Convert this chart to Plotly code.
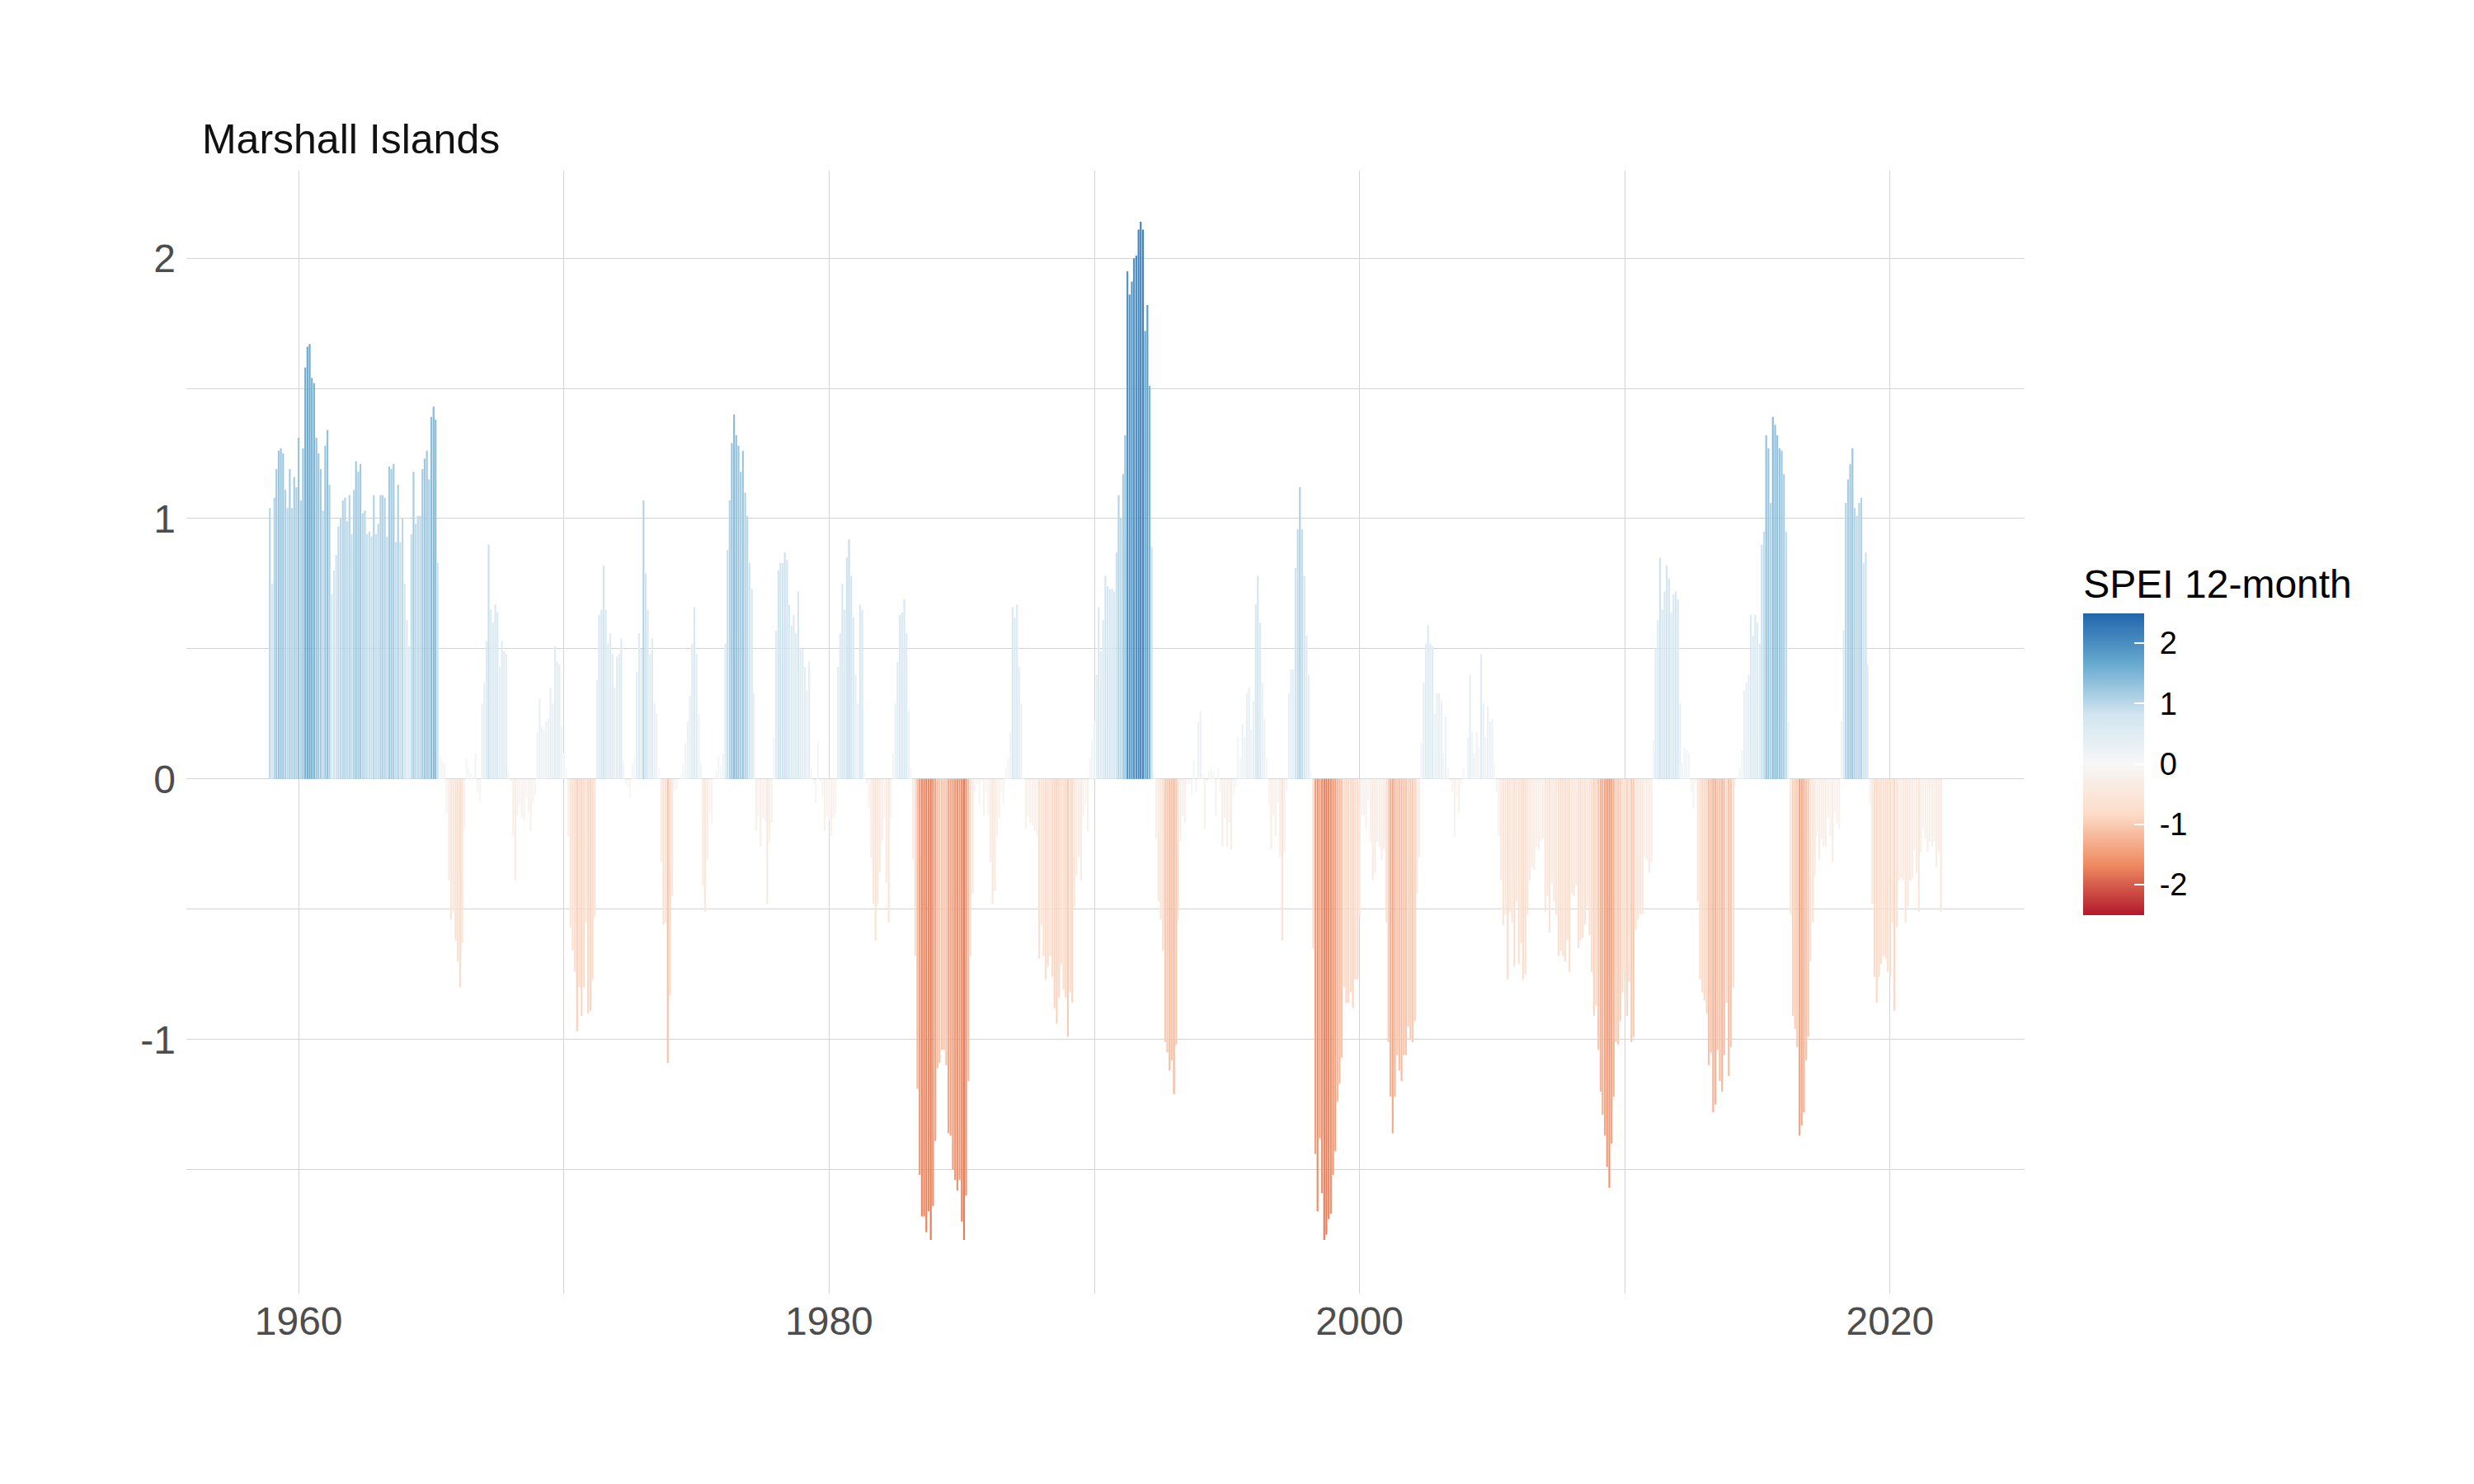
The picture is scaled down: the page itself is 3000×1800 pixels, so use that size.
import pandas as pd
import plotly.graph_objects as go

# ─── Data (monthly SPEI-12, Dec 1958 .. Dec 2021) ─────────────────────────────
TITLE = "Marshall Islands"
START_MONTH = "1958-12-01"

spei = [
    1.04, 0.75, 1.08, 1.19, 1.26, 1.27, 1.25, 1.11, 1.04, 1.19, 1.04, 1.16, 1.12,
    1.31, 1.07, 1.27, 1.58, 1.66, 1.67, 1.54, 1.52, 1.31, 1.25, 1.19, 1.03,
    1.28, 1.34, 1.13, 0.71, 0.80, 0.86, 0.97, 1.00, 1.07, 1.08, 0.99, 1.09,
    0.94, 1.11, 1.22, 1.18, 1.21, 1.02, 1.03, 0.94, 0.95, 0.93, 1.09, 0.94,
    0.98, 1.09, 1.09, 1.08, 0.93, 1.20, 1.19, 1.21, 0.91, 1.13, 0.91, 1.00,
    0.75, 0.61, 0.51, 0.94, 1.18, 0.98, 1.01, 1.01, 1.19, 1.23, 1.26, 1.15,
    1.39, 1.43, 1.38, 0.83, 0.09, 0.07, 0.06, -0.13, -0.39, -0.54, -0.51, -0.62,
    -0.70, -0.80, -0.63, -0.19, 0.08, 0.04, 0.02, 0.01, 0.10, -0.05, -0.09, 0.29,
    0.37, 0.53, 0.90, 0.65, 0.60, 0.67, 0.64, 0.43, 0.53, 0.49, 0.48, 0.03,
    -0.01, -0.22, -0.39, -0.14, -0.10, -0.15, -0.16, -0.07, -0.13, -0.20, -0.09, -0.06,
    0.18, 0.31, 0.20,
    0.19, 0.22, 0.23, 0.35, 0.29, 0.51, 0.45, 0.44, 0.20, 0.10, 0.04,
    -0.22, -0.57, -0.66, -0.74, -0.97, -0.80, -0.91, -0.80, -0.55, -0.90, -0.89, -0.77, -0.53,
    0.38, 0.63, 0.65, 0.82, 0.65, 0.52, 0.56, 0.48, 0.35, 0.47, 0.48, 0.54, 0.07,
    -0.02, -0.03, -0.07,
    0.06, 0.08, 0.41, 0.56, 0.50, 1.07, 0.79, 0.65, 0.48, 0.54, 0.29, 0.25, 0.04,
    -0.32, -0.56, -0.55, -1.09, -0.83, -0.45, -0.05, -0.04,
    0.00, 0.02, 0.06, 0.14, 0.22, 0.32, 0.52, 0.66, 0.48, 0.25, 0.06,
    -0.41, -0.51, -0.31, -0.13, -0.17,
    0.01, 0.03, 0.09, 0.05, 0.10, 0.52, 0.88, 1.07, 1.29, 1.40, 1.32, 1.28, 1.18,
    1.26, 1.10, 1.01, 0.83, 0.73, 0.33,
    -0.20, -0.14, -0.26, -0.15, -0.16, -0.48, -0.24, -0.17,
    0.16, 0.57, 0.80, 0.83, 0.83, 0.87, 0.84, 0.67, 0.59, 0.63, 0.56, 0.72, 0.50,
    0.50, 0.43, 0.34, 0.45, 0.04,
    -0.02, -0.09, 0.14, -0.01, -0.07, -0.20, -0.14, -0.16, -0.22,
    -0.15, -0.13,
    0.43, 0.56, 0.75, 0.65, 0.85, 0.92, 0.78, 0.62, 0.40, 0.29, 0.67, 0.65, 0.03,
    -0.02, -0.11, -0.30, -0.48, -0.62, -0.48, -0.36, -0.24, -0.15, -0.40, -0.55, -0.15,
    0.10, 0.29, 0.45, 0.63, 0.64, 0.69, 0.56, 0.26, 0.04,
    -0.31, -0.68, -1.19, -1.52, -1.68, -1.68, -1.74, -1.66, -1.77, -1.64, -1.39, -1.11,
    -1.09, -1.04, -1.04, -1.10, -1.36, -1.37, -1.50, -1.54, -1.58, -1.54, -1.70, -1.77,
    -1.60, -1.16, -0.68, -0.44,
    -0.05, -0.02, -0.10, -0.01, -0.14, -0.05, -0.14, -0.32, -0.48, -0.43, -0.22, -0.15,
    -0.05, -0.10,
    0.04, 0.08, 0.18, 0.66, 0.62, 0.67, 0.43, 0.29, 0.01,
    -0.19, -0.14, -0.17, -0.18, -0.20, -0.22, -0.69, -0.56, -0.68, -0.77, -0.72, -0.68,
    -0.76, -0.88, -0.94, -0.84, -0.71, -0.81, -0.84, -0.99, -0.82, -0.86, -0.49, -0.37,
    -0.30, -0.39, -0.14, -0.10, -0.20,
    0.08, 0.15, 0.22, 0.40, 0.66, 0.49, 0.61, 0.78, 0.74, 0.73, 0.73, 0.72, 0.87,
    1.09, 1.00, 1.17, 1.32, 1.95, 1.86,
    1.91, 2.00, 2.01, 2.11, 2.14, 2.11, 1.72, 1.82, 1.51, 0.89, 0.03,
    -0.23, -0.47, -0.54, -0.66, -1.01, -1.05, -1.12, -1.08, -1.21, -1.02, -0.54, -0.24, -0.14,
    -0.17, -0.02, -0.02, -0.06, 0.07, -0.05, 0.22, 0.26, 0.02, -0.19, -0.01, 0.03,
    0.04, 0.03, -0.14, 0.04, -0.05, -0.26, -0.15, -0.26, -0.17, -0.27, -0.07, -0.03,
    0.16, 0.08, 0.21, 0.16, 0.33, 0.35, 0.19, 0.30, 0.67, 0.78, 0.60, 0.37, 0.23, 0.08,
    -0.10, -0.27, -0.14, -0.22, -0.09, -0.30, -0.62, -0.28, -0.05,
    0.33, 0.42, 0.42, 0.81, 0.96, 1.12, 0.96, 0.78, 0.55, 0.40, 0.03,
    -0.65, -1.44, -1.66, -1.38, -1.59, -1.77, -1.75, -1.69, -1.67, -1.52, -1.43, -1.24,
    -1.17, -1.07, -0.80, -0.86, -0.86, -0.82, -0.88, -0.77, -0.77, -0.53, -0.14,
    -0.14, -0.19, -0.08, -0.24, -0.39, -0.36, -0.24, -0.26, -0.31, -0.27,
    -0.55, -1.01, -1.22, -1.36, -1.22, -1.06, -1.12, -1.16, -1.06, -1.06, -0.95, -1.00,
    -1.01, -0.93, -0.44, -0.30,
    0.14, 0.37, 0.52, 0.59, 0.52, 0.51, 0.25, 0.33, 0.33, 0.30, 0.10, 0.24, 0.04,
    -0.01, -0.05, -0.22, -0.07, -0.13, -0.02, 0.04,
    0.01, 0.16, 0.40, 0.18, 0.10, 0.18, 0.12, 0.48, 0.29, 0.16, 0.28, 0.22, 0.23, 0.06,
    -0.05,
    -0.22, -0.39, -0.56, -0.52, -0.77, -0.51, -0.55, -0.72, -0.47, -0.71,
    -0.63, -0.77, -0.75, -0.52, -0.39, -0.34, -0.35, -0.26, -0.27, -0.24,
    -0.23, -0.51, -0.45, -0.59, -0.40, -0.47, -0.52, -0.68, -0.66, -0.68,
    -0.70, -0.62, -0.74, -0.44, -0.45, -0.41, -0.65, -0.62, -0.61, -0.56,
    -0.49, -0.60, -0.74, -0.91, -0.87, -1.04, -1.20, -1.29, -1.37, -1.49,
    -1.57, -1.40, -1.22, -1.01, -1.02, -0.93, -0.82, -0.74, -0.91, -0.78,
    -1.01, -0.99, -0.58, -0.54, -0.52, -0.52, -0.30, -0.31, -0.36, -0.32,
    0.15, 0.50, 0.61, 0.85, 0.65, 0.72, 0.82, 0.77, 0.64, 0.71, 0.72, 0.69, 0.29,
    0.06, 0.12, 0.11, 0.10,
    -0.05, -0.11, -0.02, -0.47,
    -0.77, -0.82, -0.85, -0.90, -1.10, -1.05, -1.28, -1.25, -1.04, -1.16, -1.20, -1.06,
    -0.86, -1.14, -1.03, -0.80, -0.03,
    0.01, 0.04, 0.11, 0.34, 0.37, 0.40, 0.63, 0.55, 0.63, 0.60, 0.52, 0.90,
    0.95, 1.32, 1.27, 1.06, 1.39, 1.36, 1.32, 1.27, 1.26, 1.17, 0.95, 0.22,
    -0.52, -0.91, -0.96, -1.03, -1.37, -1.33, -1.28, -1.08, -0.99, -0.70, -0.55, -0.37,
    -0.22, -0.31, -0.23, -0.26, -0.26, -0.15, -0.22, -0.32, -0.13, -0.17, -0.19,
    0.22, 0.57, 1.06, 1.15, 1.21, 1.27, 1.04, 1.01, 1.06, 1.08, 0.83, 0.87, 0.44,
    -0.10,
    -0.48, -0.76, -0.86, -0.76, -0.71, -0.68, -0.69, -0.74, -0.76, -0.55, -0.89, -0.57,
    -0.39, -0.38, -0.39, -0.55, -0.49, -0.39, -0.38, -0.27, -0.36, -0.51, -0.28, -0.19,
    -0.23, -0.28, -0.24, -0.26, -0.24, -0.34, -0.28, -0.51,
]

months = pd.date_range(START_MONTH, periods=len(spei), freq="MS")

x_ticks = ["1960-01-01", "1980-01-01", "2000-01-01", "2020-01-01"]
x_labels = ["1960", "1980", "2000", "2020"]
x_minor = ["1970-01-01", "1990-01-01", "2010-01-01"]
y_ticks = [-1, 0, 1, 2]
y_labels = ["-1", "0", "1", "2"]
y_minor = [-1.5, -0.5, 0.5, 1.5]
scale_ticks = [-2, -1, 0, 1, 2]
scale_labels = ["-2", "-1", "0", "1", "2"]

# RdBu (7 class), red for dry, blue for wet
RDBU = [
    [0.0, "#B2182B"],
    [1 / 6, "#EF8A62"],
    [2 / 6, "#FDDBC7"],
    [0.5, "#F7F7F7"],
    [4 / 6, "#D1E5F0"],
    [5 / 6, "#67A9CF"],
    [1.0, "#2166AC"],
]

GRID = "#d4d4d4"
FONT = "Liberation Sans, Arial, sans-serif"
MONTH_MS = 30.44 * 24 * 3600 * 1000

fig = go.Figure(go.Bar(
    x=months,
    y=spei,
    width=0.8 * MONTH_MS,
    marker=dict(
        color=spei,
        colorscale=RDBU,
        cmin=-2.5,
        cmax=2.5,
        line=dict(width=0),
        showscale=True,
        colorbar=dict(
            title=dict(text="SPEI 12-month", side="top", font=dict(size=48, color="#000000")),
            thickness=74,
            thicknessmode="pixels",
            len=424,
            lenmode="pixels",
            x=1.032,
            xanchor="left",
            y=0.493,
            yanchor="middle",
            xpad=0,
            ypad=0,
            outlinewidth=0,
            ticks="inside",
            ticklen=12,
            tickwidth=1.5,
            tickcolor="#ffffff",
            tickvals=scale_ticks,
            # small non-breaking gap so labels sit a bit off the bar, as in ggplot
            ticktext=["\u00a0" + t for t in scale_labels],
            tickfont=dict(size=38, color="#000000"),
        ),
    ),
    hovertemplate="%{x|%b %Y}<br>SPEI: %{y:.2f}<extra></extra>",
))

fig.update_layout(
    width=3000,
    height=1800,
    margin=dict(l=218, r=553, t=199, b=239),
    paper_bgcolor="#ffffff",
    plot_bgcolor="#ffffff",
    font=dict(family=FONT, color="#4d4d4d"),
    showlegend=False,
    title=dict(
        text=TITLE,
        xref="paper",
        x=0.0085,
        xanchor="left",
        yref="container",
        y=1 - 160 / 1800,
        yanchor="middle",
        font=dict(size=50, color="#111111", family=FONT),
    ),
    xaxis=dict(
        type="date",
        range=["1955-10-08", "2025-01-26"],
        tickvals=x_ticks,
        ticktext=x_labels,
        tickfont=dict(size=48, color="#4d4d4d"),
        ticks="",
        ticklabelstandoff=1,
        showgrid=True,
        gridcolor=GRID,
        gridwidth=1.4,
        minor=dict(tickvals=x_minor, showgrid=True, gridcolor=GRID, gridwidth=1),
        showline=False,
        zeroline=False,
    ),
    yaxis=dict(
        range=[-1.976, 2.336],
        tickvals=y_ticks,
        ticktext=y_labels,
        tickfont=dict(size=48, color="#4d4d4d"),
        ticks="",
        ticklabelstandoff=12,
        showgrid=True,
        gridcolor=GRID,
        gridwidth=1.4,
        minor=dict(tickvals=y_minor, showgrid=True, gridcolor=GRID, gridwidth=1),
        showline=False,
        zeroline=False,
    ),
)

fig.write_html("out.html")
